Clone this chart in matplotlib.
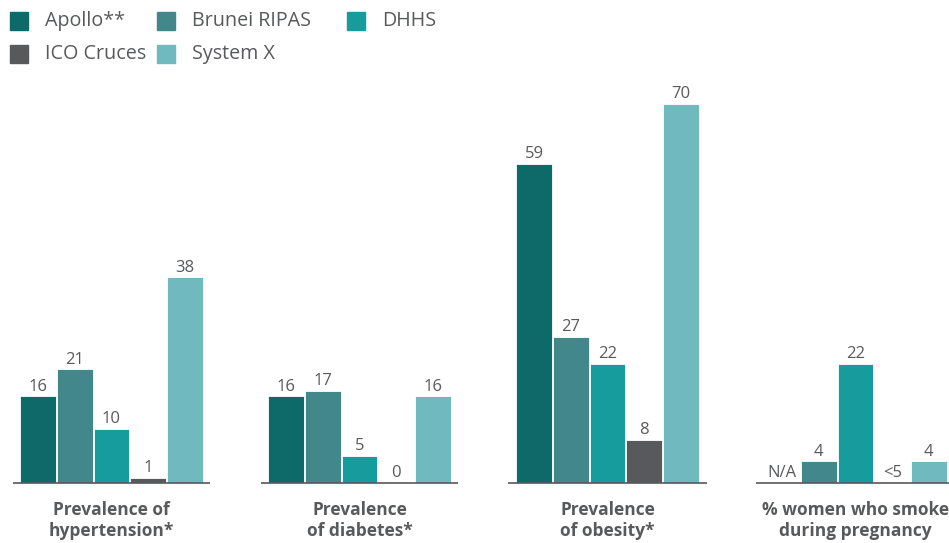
import matplotlib
matplotlib.use("Agg")
import matplotlib.pyplot as plt
from matplotlib.patches import Rectangle
import numpy as np

plt.rcParams['font.family'] = ['Open Sans', 'DejaVu Sans']

categories = ["Prevalence of\nhypertension*", "Prevalence\nof diabetes*",
              "Prevalence\nof obesity*", "% women who smoke\nduring pregnancy"]
series = ["Apollo**", "Brunei RIPAS", "DHHS", "ICO Cruces", "System X"]
colors = ["#0e6969", "#42878a", "#179c9e", "#58595b", "#6fb9bf"]
# None = no bar; label text used instead
values = {
    "Apollo**":     [16, 16, 59, None],
    "Brunei RIPAS": [21, 17, 27, 4],
    "DHHS":         [10, 5, 22, 22],
    "ICO Cruces":   [1, 0, 8, None],
    "System X":     [38, 16, 70, 4],
}
labels = {
    "Apollo**":     ["16", "16", "59", "N/A"],
    "Brunei RIPAS": ["21", "17", "27", "4"],
    "DHHS":         ["10", "5", "22", "22"],
    "ICO Cruces":   ["1", "0", "8", "<5"],
    "System X":     ["38", "16", "70", "4"],
}

TXT = "#58595b"
W, H = 949, 543
fig = plt.figure(figsize=(W / 100, H / 100), dpi=100)

base_px = 483
top_px = 80
ax = fig.add_axes([0, (H - base_px) / H, 1, (base_px - top_px) / H])
px_per_unit = (483 - 104) / 70.0
ax.set_ylim(0, (base_px - top_px) / px_per_unit)
grp_pitch = 248.0
c0 = 111.5
ax.set_xlim(-c0 / grp_pitch, (W - c0) / grp_pitch)
ax.axis("off")

bar_pitch = 36.7 / grp_pitch
bar_w = 35.5 / grp_pitch
x = np.arange(len(categories))
for i, s in enumerate(series):
    off = (i - 2) * bar_pitch
    for g in range(len(categories)):
        v = values[s][g]
        xc = x[g] + off
        if v is not None and v > 0:
            ax.bar(xc, v, width=bar_w, color=colors[i], edgecolor="white", linewidth=0.6, zorder=2)
        y = v if v is not None else 0
        ax.text(xc, y + 0.3, labels[s][g], ha="center", va="bottom",
                fontsize=12, color=TXT)

half = 99 / grp_pitch
for g in range(len(categories)):
    ax.plot([x[g] - half, x[g] + half], [0, 0], color=TXT, lw=1.2, zorder=3,
            clip_on=False, solid_capstyle="butt")
    ax.text(x[g], -3.3, categories[g], ha="center", va="top", fontsize=12.5,
            fontweight="bold", color=TXT, linespacing=1.22)

# Legend
leg_pos = [(10, 12), (157, 12), (347, 12), (10, 45), (157, 45)]
for i, s in enumerate(series):
    lx, ly = leg_pos[i]
    fig.add_artist(Rectangle((lx / W, 1 - (ly + 18) / H), 18 / W, 18 / H,
                             transform=fig.transFigure, color=colors[i]))
    fig.text((lx + 35) / W, 1 - (ly + 9) / H, s, ha="left", va="center",
             fontsize=14.2, color=TXT)

fig.savefig("out.png", dpi=100)
